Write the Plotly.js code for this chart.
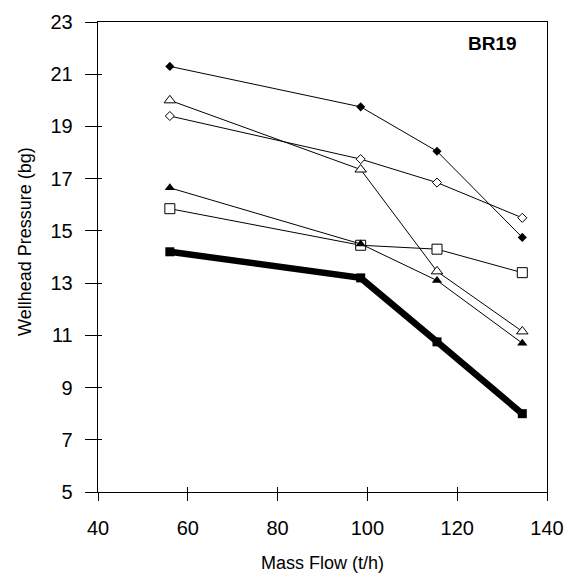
<!DOCTYPE html>
<html>
<head>
<meta charset="utf-8">
<script src="https://cdn.plot.ly/plotly-3.0.1.min.js"></script>
<style>html,body{margin:0;padding:0;background:#fff;}#chart{width:584px;height:581px;}</style>
</head>
<body>
<div id="chart"></div>
<script>
// Mass flow (t/h)
var massFlow = [56, 98.5, 115.5, 134.5];
// Wellhead pressure (bg) for each series
var filledDiamond = [21.3, 19.75, 18.05, 14.75];
var openTriangle = [20.0, 17.35, 13.45, 11.15];
var openDiamond = [19.4, 17.75, 16.85, 15.5];
var filledTriangle = [16.65, 14.5, 13.1, 10.7];
var openSquare = [15.85, 14.45, 14.3, 13.4];
var thickSeries = [14.2, 13.2, 10.75, 8.0];
var xTicks = [40, 60, 80, 100, 120, 140];
var yTicks = [5, 7, 9, 11, 13, 15, 17, 19, 21, 23];

var FONT = 'Liberation Sans, Arial, Helvetica, sans-serif';

function series(y, symbol, size, fill, lw, mk) {
  return {
    x: massFlow, y: y, type: 'scatter', mode: 'lines+markers',
    line: {color: '#000', width: lw},
    marker: {symbol: symbol, size: size, color: fill, line: {color: '#000', width: mk}},
    showlegend: false, hoverinfo: 'x+y'
  };
}

var thick = series(thickSeries, 'square', 9, '#000', 6.5, 0);
thick.xaxis = 'x2';
thick.yaxis = 'y2';

var traces = [
  series(openSquare, 'square', 10, '#fff', 1, 1),
  series(filledTriangle, 'triangle-up', 9, '#000', 1, 0),
  series(openDiamond, 'diamond', 7, '#fff', 1, 1),
  series(openTriangle, 'triangle-up', 10, '#fff', 1, 1),
  series(filledDiamond, 'diamond', 7, '#000', 1, 0),
  thick
];

var axBase = {
  showgrid: false, zeroline: false, linecolor: '#000', linewidth: 1.3,
  tickcolor: '#000', tickwidth: 1, color: '#000'
};

var layout = {
  width: 584, height: 581,
  margin: {l: 98, r: 37, t: 22, b: 89},
  paper_bgcolor: '#fff', plot_bgcolor: '#fff',
  font: {family: FONT, color: '#000', size: 20},
  xaxis: Object.assign({}, axBase, {
    range: [40, 140], tickmode: 'array', tickvals: xTicks,
    ticks: 'outside', ticklen: 8, mirror: true, showline: true,
    tickfont: {size: 20, family: FONT}, ticklabelstandoff: 10,
    title: {text: 'Mass Flow (t/h)', font: {size: 18, family: FONT}, standoff: 18}
  }),
  yaxis: Object.assign({}, axBase, {
    range: [5, 23], tickmode: 'array', tickvals: yTicks,
    ticks: 'outside', ticklen: 12, mirror: true, showline: true,
    tickfont: {size: 20, family: FONT}, ticklabelstandoff: 8
  }),
  xaxis2: Object.assign({}, axBase, {
    range: [40, 140], tickmode: 'array', tickvals: xTicks, overlaying: 'x', anchor: 'y2',
    ticks: 'inside', ticklen: 5, showticklabels: false, showline: false, side: 'bottom'
  }),
  yaxis2: Object.assign({}, axBase, {
    range: [5, 23], tickmode: 'array', tickvals: yTicks, overlaying: 'y', anchor: 'x2',
    ticks: 'inside', ticklen: 4, showticklabels: false, showline: false, side: 'left'
  }),
  annotations: [
    {text: 'Wellhead Pressure (bg)', textangle: -90, xref: 'paper', yref: 'paper',
     x: -0.1626, y: 0.534, xanchor: 'center', yanchor: 'middle', showarrow: false,
     font: {size: 18, family: FONT, color: '#000'}},
    {text: '<b>BR19</b>', xref: 'paper', yref: 'paper', x: 0.9376, y: 0.9553,
     xanchor: 'right', yanchor: 'middle', showarrow: false,
     font: {size: 19, family: FONT, color: '#000'}}
  ]
};

Plotly.newPlot('chart', traces, layout, {staticPlot: true, displayModeBar: false});
</script>
</body>
</html>
